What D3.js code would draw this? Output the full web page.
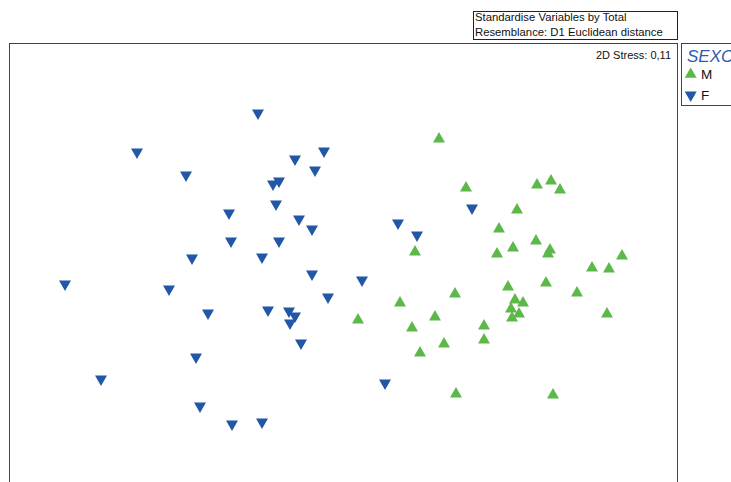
<!DOCTYPE html>
<html>
<head>
<meta charset="utf-8">
<script src="https://cdn.jsdelivr.net/npm/d3@7"></script>
<style>
  html, body { margin: 0; padding: 0; background: #fff; }
  svg { display: block; font-family: "Liberation Sans", Arial, sans-serif; }
</style>
</head>
<body>
<svg id="chart" width="731" height="482"></svg>
<script>
// nMDS ordination coordinates (MDS1, MDS2) by sex
const maleX = [0.95, 1.22, 1.93, 2.07, 2.16, 1.73, 1.55, 1.92, 1.69, 1.53, 2.06, 2.04,
  0.71, 2.78, 2.48, 2.65, 2.02, 1.64, 1.11, 2.33, 0.56, 1.71, 1.79, 1.67,
  1.75, 1.68, 2.63, 0.91, 0.14, 0.68, 1.40, 1.40, 1.00, 0.76, 1.12, 2.09];
const maleY = [1.24, 0.75, 0.78, 0.82, 0.73, 0.53, 0.34, 0.22, 0.15, 0.09, 0.13, 0.09,
  0.11, 0.07, -0.05, -0.06, -0.20, -0.24, -0.31, -0.30, -0.40, -0.37, -0.40, -0.46,
  -0.51, -0.55, -0.51, -0.54, -0.57, -0.65, -0.63, -0.77, -0.81, -0.90, -1.31, -1.32];
const femaleX = [-0.86, -2.07, -1.58, -0.20, -0.49, -0.29, -0.71, -0.65, -0.68, -1.15, -0.45, -0.32,
  -1.13, -0.65, 0.54, 0.73, 1.28, -1.52, -0.82, -2.79, -1.75, -0.32, 0.18, -0.16,
  -1.36, -0.76, -0.55, -0.49, -0.54, -0.43, -1.48, -2.43, 0.41, -1.44, -1.12, -0.82];
const femaleY = [1.50, 1.11, 0.88, 1.12, 1.04, 0.93, 0.79, 0.82, 0.59, 0.50, 0.44, 0.34,
  0.22, 0.22, 0.40, 0.28, 0.55, 0.05, 0.06, -0.21, -0.26, -0.11, -0.17, -0.34,
  -0.50, -0.47, -0.48, -0.53, -0.60, -0.80, -0.94, -1.16, -1.20, -1.43, -1.61, -1.59];

const groups = ["M", "F"];
const headerLines = ["Standardise Variables by Total", "Resemblance: D1 Euclidean distance"];
const stressLabel = "2D Stress: 0,11";
const legendTitle = "SEXO";

const colors = { M: "#5db84a", F: "#2157a6" };

const svg = d3.select("#chart");

// plot frame
const frame = { left: 10, top: 44, right: 678, bottom: 490 };
const x = d3.scaleLinear().domain([-3.34, 3.34]).range([frame.left, frame.right]);
const y = d3.scaleLinear().domain([2.19, -2.19]).range([frame.top, frame.top + 438]);

svg.append("rect")
  .attr("x", frame.left - 0.5).attr("y", frame.top - 0.5)
  .attr("width", frame.right - frame.left).attr("height", frame.bottom - frame.top)
  .attr("fill", "none").attr("stroke", "#444").attr("stroke-width", 1);

// header box
const hdr = svg.append("g");
hdr.append("rect")
  .attr("x", 473.5).attr("y", 11.5).attr("width", 204).attr("height", 28)
  .attr("fill", "#fff").attr("stroke", "#222").attr("stroke-width", 1);
hdr.selectAll("text").data(headerLines).join("text")
  .attr("x", 475).attr("y", (d, i) => 21 + i * 15)
  .attr("font-size", 11.3).attr("fill", "#111")
  .text(d => d);

// stress label
svg.append("text")
  .attr("x", 671).attr("y", 58.5)
  .attr("text-anchor", "end").attr("font-size", 11).attr("fill", "#111")
  .text(stressLabel);

// points
const tri = d3.symbol().type(d3.symbolTriangle).size(62);
const maleData = maleX.map((v, i) => ({ x: v, y: maleY[i], g: "M" }));
const femaleData = femaleX.map((v, i) => ({ x: v, y: femaleY[i], g: "F" }));
const pts = svg.append("g");
pts.selectAll("path.f").data(femaleData).join("path")
  .attr("class", "f")
  .attr("d", tri)
  .attr("transform", d => `translate(${x(d.x)},${y(d.y)}) rotate(180)`)
  .attr("fill", colors.F);
pts.selectAll("path.m").data(maleData).join("path")
  .attr("class", "m")
  .attr("d", tri)
  .attr("transform", d => `translate(${x(d.x)},${y(d.y)})`)
  .attr("fill", colors.M);

// legend
const lg = svg.append("g");
lg.append("rect")
  .attr("x", 681.5).attr("y", 43.5).attr("width", 60).attr("height", 62)
  .attr("fill", "#fff").attr("stroke", "#444").attr("stroke-width", 1);
lg.append("text")
  .attr("x", 687).attr("y", 61.7)
  .attr("font-size", 17).attr("font-style", "italic").attr("fill", "#2a5db0")
  .text(legendTitle);
const items = lg.selectAll("g.item").data(groups).join("g")
  .attr("class", "item")
  .attr("transform", (d, i) => `translate(0,${74.3 + i * 20.7})`);
items.append("path")
  .attr("d", tri)
  .attr("transform", d => `translate(690.7,0)${d === "F" ? " rotate(180)" : ""}`)
  .attr("fill", d => colors[d]);
items.append("text")
  .attr("x", 701).attr("y", 4.5)
  .attr("font-size", 13.5).attr("fill", "#111")
  .text(d => d);
</script>
</body>
</html>
